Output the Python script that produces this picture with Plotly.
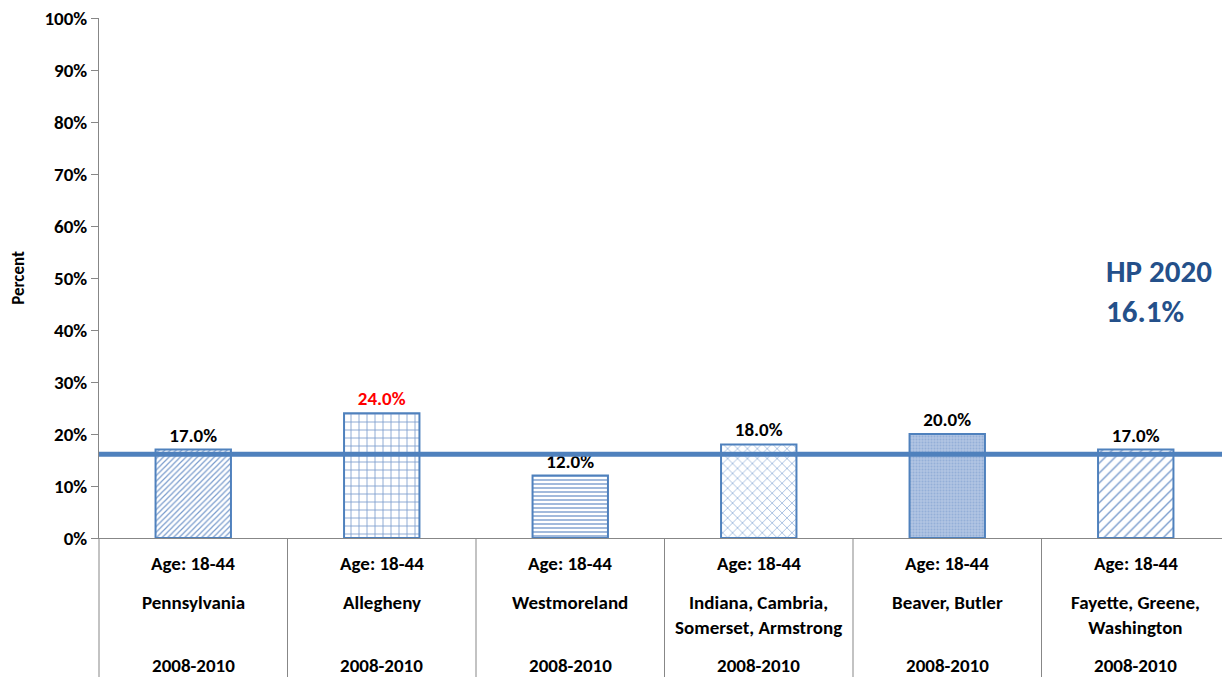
import plotly.graph_objects as go

regions = ["Pennsylvania", "Allegheny", "Westmoreland",
           "Indiana, Cambria,<br>Somerset, Armstrong", "Beaver, Butler",
           "Fayette, Greene,<br>Washington"]
age_labels = ["Age: 18-44"] * 6
years = ["2008-2010"] * 6
values = [17.0, 24.0, 12.0, 18.0, 20.0, 17.0]
label_colors = ["black", "red", "black", "black", "black", "black"]
hp2020 = 16.1
yticks = [0, 10, 20, 30, 40, 50, 60, 70, 80, 90, 100]

patterns = ["/", "+", "-", "x", ".", "/"]
pat_sizes = [4, 8, 4, 7, 3, 7]
pat_solid = [0.3, 0.2, 0.35, 0.2, 0.35, 0.2]
fg = ["#7A9CCD", "#7A9CCD", "#7A9CCD", "#8FAED8", "#94AFD8", "#7A9CCD"]
bg = ["white", "white", "white", "white", "#B1C5E3", "white"]

FONT = "Carlito, Lato, 'Open Sans', sans-serif"
x = list(range(len(regions)))

fig = go.Figure()
fig.add_trace(go.Bar(
    x=x, y=values, width=0.4,
    marker=dict(
        color="white",
        line=dict(color="#4F81BD", width=2),
        pattern=dict(shape=patterns, size=pat_sizes, solidity=pat_solid,
                     fgcolor=fg, bgcolor=bg, fillmode="replace"),
    ),
    text=[f"<b>{v:.1f}%</b>" for v in values],
    textposition="outside",
    textfont=dict(family=FONT, size=19, color=label_colors),
    cliponaxis=False,
    showlegend=False,
))

PH = 520.0
shapes = [dict(type="line", xref="paper", yref="y", x0=0, x1=1, y0=hp2020, y1=hp2020,
               line=dict(color="#4F81BD", width=5), layer="above")]
for b in [i + 0.5 for i in range(len(regions) - 1)]:
    shapes.append(dict(type="line", xref="x", yref="paper", x0=b, x1=b, y0=0, y1=-139 / PH,
                       line=dict(color="#878787", width=1)))
shapes.append(dict(type="line", xref="paper", yref="paper", x0=0, x1=0, y0=0, y1=-139 / PH,
                   line=dict(color="#878787", width=1)))

annotations = []
for i in x:
    annotations.append(dict(x=i, xref="x", y=-25 / PH, yref="paper", yanchor="middle",
                            text=f"<b>{age_labels[i]}</b>", showarrow=False,
                            font=dict(family=FONT, size=19, color="black")))
    annotations.append(dict(x=i, xref="x", y=-51 / PH, yref="paper", yanchor="top",
                            text=f"<b>{regions[i]}</b>", showarrow=False,
                            font=dict(family=FONT, size=19, color="black")))
    annotations.append(dict(x=i, xref="x", y=-127 / PH, yref="paper", yanchor="middle",
                            text=f"<b>{years[i]}</b>", showarrow=False,
                            font=dict(family=FONT, size=19, color="black")))
annotations.append(dict(x=(1104 - 99) / 1131, xref="paper", y=47.5, yref="y", xanchor="left",
                        yanchor="middle",
                        text="<b>HP 2020<br>16.1%</b>", showarrow=False, align="left",
                        font=dict(family=FONT, size=31, color="#24508A")))

fig.update_layout(
    width=1222, height=669,
    margin=dict(l=91, r=0, t=10, b=139, pad=0),
    paper_bgcolor="white", plot_bgcolor="white",
    shapes=shapes, annotations=annotations,
    xaxis=dict(range=[-0.5, 5.5], showticklabels=False, showline=True,
               linecolor="#878787", linewidth=1, ticks="", showgrid=False, zeroline=False),
    yaxis=dict(range=[0, 100], tickvals=yticks, ticktext=[f"<b>{v}%</b>" for v in yticks],
               showline=True, linecolor="#878787", linewidth=1, ticks="outside",
               ticklen=7, tickcolor="#878787", showgrid=False, zeroline=False,
               ticklabeloverflow="allow",
               tickfont=dict(family=FONT, size=19, color="black"),
               title=dict(text="<b>Percent</b>", font=dict(family=FONT, size=17, color="black"),
                          standoff=24)),
)

fig.write_html("out.html")
